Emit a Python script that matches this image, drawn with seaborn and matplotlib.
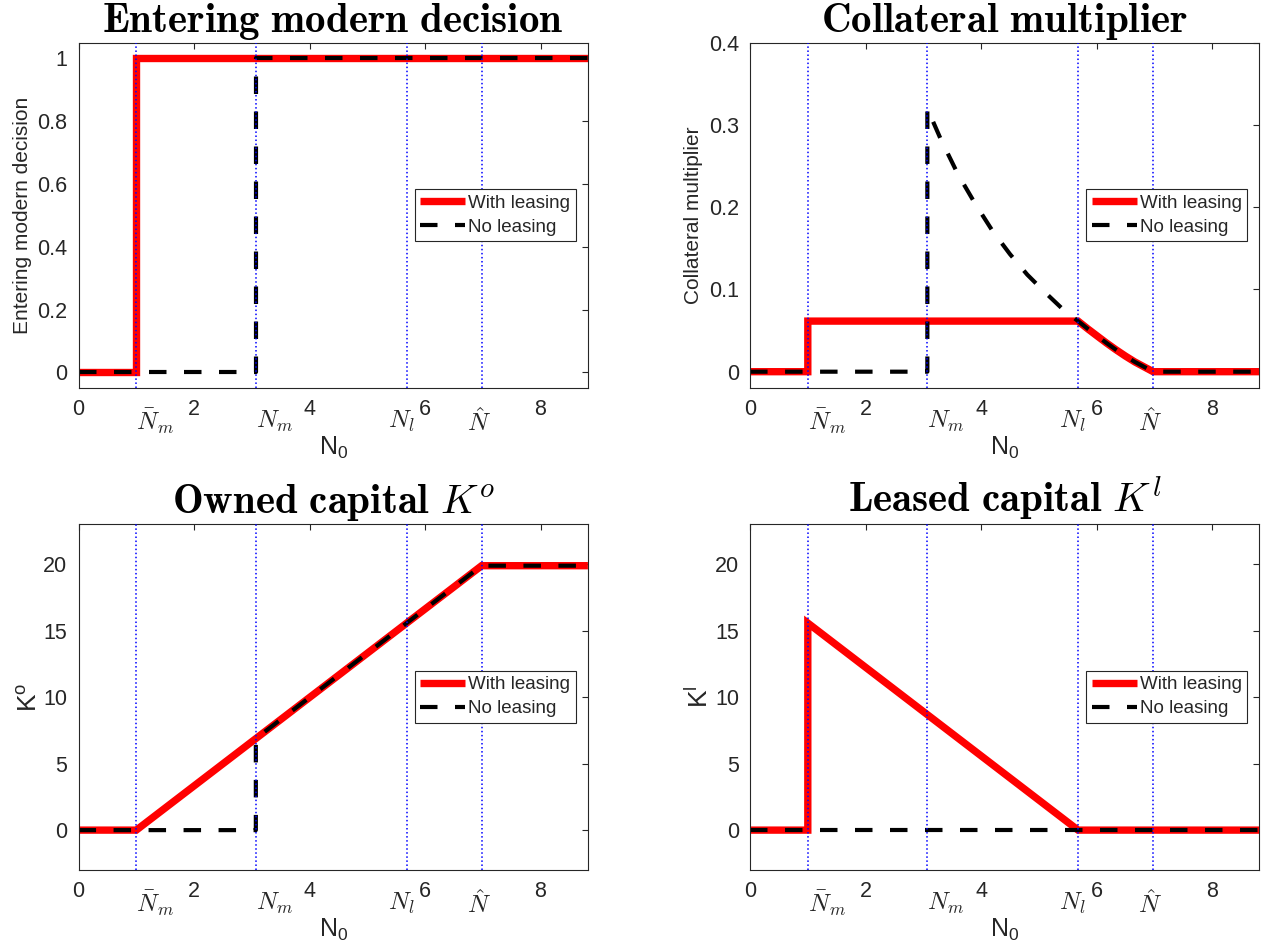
import matplotlib
matplotlib.use("Agg")
import matplotlib.pyplot as plt
import matplotlib.transforms as mtransforms
import seaborn as sns

# thresholds on the N0 axis (blue dotted lines)
thresholds = [1.0, 3.07, 5.68, 6.98]
threshold_labels = [r"$\bar{N}_m$", r"$N_m$", r"$N_l$", r"$\hat{N}$"]
threshold_label_x = [1.0, 3.07, 5.35, 6.72]
x_max = 8.82

# entering modern decision
entry_lease_x = [0, 1.0, 1.0, 8.82]
entry_lease_y = [0, 0, 1, 1]
entry_none_x = [0, 3.07, 3.07, 8.82]
entry_none_y = [0, 0, 1, 1]

# collateral multiplier
coll_lease_x = [0, 1.0, 1.0, 5.68, 5.85, 6.0, 6.17, 6.33, 6.5, 6.66, 6.82, 6.98, 8.82]
coll_lease_y = [0, 0, 0.0615, 0.0615, 0.052, 0.044, 0.035, 0.027, 0.019, 0.012, 0.006, 0, 0]
coll_none_x = [0, 3.07, 3.07, 3.3, 3.6, 3.9, 4.2, 4.5, 4.8, 5.1, 5.4, 5.68,
               5.85, 6.0, 6.17, 6.33, 6.5, 6.66, 6.82, 6.98, 8.82]
coll_none_y = [0, 0, 0.32, 0.283, 0.24, 0.204, 0.171, 0.143, 0.118, 0.097,
               0.077, 0.0615, 0.052, 0.044, 0.035, 0.027, 0.019, 0.012, 0.006, 0, 0]

# owned capital
own_lease_x = [0, 1.0, 6.98, 8.82]
own_lease_y = [0, 0, 19.87, 19.87]
own_none_x = [0, 3.07, 3.07, 6.98, 8.82]
own_none_y = [0, 0, 6.88, 19.87, 19.87]

# leased capital
lease_lease_x = [0, 1.0, 1.0, 5.68, 8.82]
lease_lease_y = [0, 0, 15.56, 0, 0]
lease_none_x = [0, 8.82]
lease_none_y = [0, 0]

sns.set_theme(style="white")
plt.rcParams["font.family"] = ["Liberation Sans", "DejaVu Sans"]

fig = plt.figure(figsize=(12.67, 9.49), dpi=100)
boxes = [[0.062, 0.591, 0.402, 0.364], [0.592, 0.591, 0.402, 0.364],
         [0.062, 0.0832, 0.402, 0.3646], [0.592, 0.0832, 0.402, 0.3646]]

panels = [
    (entry_lease_x, entry_lease_y, entry_none_x, entry_none_y,
     r"$\mathbf{Entering\ modern\ decision}$", "Entering modern decision", 15,
     (-0.05, 1.05), [0, 0.2, 0.4, 0.6, 0.8, 1], ["0", "0.2", "0.4", "0.6", "0.8", "1"], -0.092),
    (coll_lease_x, coll_lease_y, coll_none_x, coll_none_y,
     r"$\mathbf{Collateral\ multiplier}$", "Collateral multiplier", 15,
     (-0.02, 0.4), [0, 0.1, 0.2, 0.3, 0.4], ["0", "0.1", "0.2", "0.3", "0.4"], -0.092),
    (own_lease_x, own_lease_y, own_none_x, own_none_y,
     r"$\mathbf{Owned\ capital}\ K^o$", r"K$^\mathregular{o}$", 19,
     (-3, 23), [0, 5, 10, 15, 20], ["0", "5", "10", "15", "20"], -0.072),
    (lease_lease_x, lease_lease_y, lease_none_x, lease_none_y,
     r"$\mathbf{Leased\ capital}\ K^l$", r"K$^\mathregular{l}$", 19,
     (-3, 23), [0, 5, 10, 15, 20], ["0", "5", "10", "15", "20"], -0.072),
]

for box, (lx, ly, nx, ny, title, ylab, ylab_size, ylim, yt, ytl, ylab_x) in zip(boxes, panels):
    ax = fig.add_axes(box)
    sns.lineplot(x=lx, y=ly, ax=ax, color="red", lw=5.3, estimator=None,
                 sort=False, label="With leasing", solid_joinstyle="miter",
                 solid_capstyle="butt")
    sns.lineplot(x=nx, y=ny, ax=ax, color="black", lw=3, estimator=None,
                 sort=False, linestyle=(0, (4.2, 4.2)), label="No leasing",
                 dash_capstyle="butt")
    for t in thresholds:
        ax.axvline(t, color="#0000ff", ls=":", lw=1.1, zorder=5)

    ax.set_xlim(0, x_max)
    ax.set_ylim(*ylim)
    ax.set_xticks([0, 2, 4, 6, 8])
    ax.set_xticklabels(["0", "2", "4", "6", "8"])
    ax.set_yticks(yt)
    ax.set_yticklabels(ytl)
    ax.tick_params(direction="in", top=True, right=True, length=4, width=0.8,
                   labelsize=15.5, colors="#262626", pad=8)
    for sp in ax.spines.values():
        sp.set_color("#262626")
        sp.set_linewidth(0.8)

    ax.set_title(title, fontsize=29.5, math_fontfamily="cm", pad=8, color="black")
    ax.set_ylabel(ylab, fontsize=ylab_size, color="#262626")
    ax.yaxis.set_label_coords(ylab_x, 0.5)
    ax.set_xlabel(r"N$_\mathregular{0}$", fontsize=18, color="#262626")
    ax.xaxis.set_label_coords(0.5, -0.135)

    trans = mtransforms.blended_transform_factory(ax.transData, ax.transAxes)
    for lab, xp in zip(threshold_labels, threshold_label_x):
        ax.text(xp, -0.097, lab, transform=trans, fontsize=18,
                math_fontfamily="cm", ha="left", va="center", color="#262626")

    ax.legend(loc="upper right", bbox_to_anchor=(0.976, 0.576), fontsize=13.5,
              frameon=True, fancybox=False, framealpha=1, edgecolor="#262626",
              handlelength=2.4, handletextpad=0.15, labelspacing=0.35,
              borderpad=0.3, borderaxespad=0)
    ax.get_legend().get_frame().set_linewidth(0.8)

fig.savefig("out.png", dpi=100)
